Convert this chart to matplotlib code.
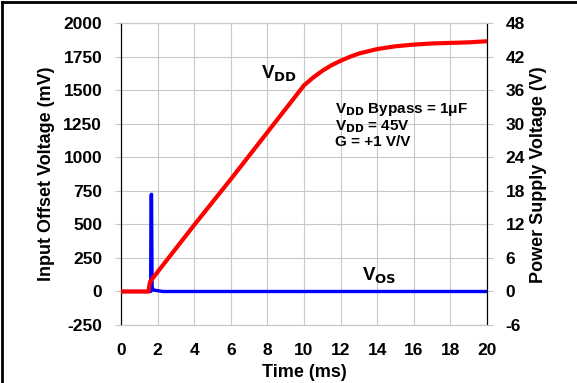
import matplotlib.pyplot as plt
from matplotlib.lines import Line2D

plt.rcParams['font.family'] = ['Liberation Sans', 'DejaVu Sans']
plt.rcParams['font.weight'] = 'bold'
plt.rcParams['axes.unicode_minus'] = False

# VOS trace (mV, left axis)
t_vos = [0, 1.62, 1.64, 1.67, 1.70, 1.74, 1.8, 2.0, 2.3, 20]
vos_mv = [0, 0, 720, 725, 40, 12, 10, 6, 0, 0]

# VDD trace (V, right axis)
t_vdd = [0, 1.5, 1.58, 2, 4, 6, 8, 10, 10.5, 11, 11.5, 12, 12.5, 13, 13.5, 14,
         15, 16, 17, 18, 19, 20]
vdd_v = [0, 0, 1.7, 3.5, 11.9, 20.1, 28.5, 36.9, 38.3, 39.5, 40.5, 41.3, 42.0, 42.6, 43.0, 43.4,
         43.9, 44.2, 44.4, 44.5, 44.6, 44.8]

xticks = list(range(0, 21, 2))
left_ticks = list(range(-250, 2001, 250))
right_ticks = list(range(-6, 49, 6))

fig = plt.figure(figsize=(5.77, 3.83), dpi=100)
ax1 = fig.add_axes([0.2097, 0.1514, 0.6343, 0.7876])
ax2 = ax1.twinx()

grid_c = '#c8c8c8'
ax1.plot(t_vos, vos_mv, color='#0000ff', lw=2.4, zorder=3)
ax2.plot(t_vdd, vdd_v, color='#ff0000', lw=3, zorder=3)

ax1.set_xlim(0, 20)
ax1.set_ylim(-250, 2000)
ax2.set_ylim(-6, 48)
ax1.set_xticks(xticks)
ax1.set_yticks(left_ticks)
ax2.set_yticks(right_ticks)
ax1.grid(True, color=grid_c, lw=0.8)
ax1.set_axisbelow(True)

ax1.tick_params(axis='x', length=0, pad=13, labelsize=12.5)
ax1.tick_params(axis='y', length=4.5, color=grid_c, pad=9, labelsize=12.5)
ax2.tick_params(axis='y', length=4.5, color=grid_c, pad=9, labelsize=12.5)

for ax in (ax1, ax2):
    ax.spines['top'].set_color(grid_c)
    ax.spines['bottom'].set_color(grid_c)
    ax.spines['left'].set_color('black')
    ax.spines['right'].set_color('black')

ax1.set_xlabel('Time (ms)', fontsize=13, fontweight='bold')
ax1.set_ylabel('Input Offset Voltage (mV)', fontsize=13, fontweight='bold')
ax2.set_ylabel('Power Supply Voltage (V)', fontsize=13, fontweight='bold')
ax1.xaxis.set_label_coords(0.5, -0.13)
ax1.yaxis.set_label_coords(-0.18, 0.5)
ax2.yaxis.set_label_coords(1.118, 0.5)

ax1.text(7.65, 1590, r'V$_\mathbf{DD}$', fontsize=13.5, fontweight='bold')
ax1.text(13.17, 77, r'V$_\mathbf{OS}$', fontsize=13.5, fontweight='bold')
ax1.text(11.7, 1420, 'V$_\\mathbf{DD}$ Bypass = 1\u03bcF\nV$_\\mathbf{DD}$ = 45V\nG = +1 V/V',
         fontsize=11, fontweight='bold', linespacing=1.0, va='top')

# outer frame
fig.add_artist(Line2D([0.004, 1], [0.995, 0.995], color='black', lw=2, transform=fig.transFigure))
fig.add_artist(Line2D([0.004, 0.004], [0, 0.995], color='black', lw=2, transform=fig.transFigure))

fig.savefig('out.png', dpi=100)
